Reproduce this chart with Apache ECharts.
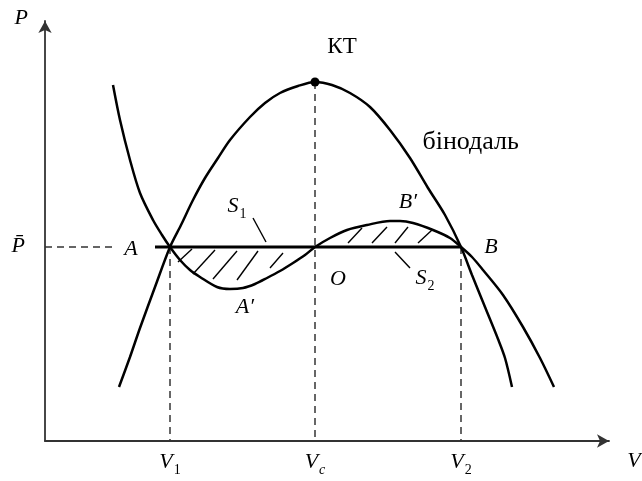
<!DOCTYPE html>
<html>
<head>
<meta charset="utf-8">
<script src="https://cdn.jsdelivr.net/npm/echarts@6/dist/echarts.min.js"></script>
<style>
  html, body { margin: 0; padding: 0; background: #fff; }
  #chart { width: 642px; height: 481px; }
</style>
</head>
<body>
<div id="chart"></div>
<script>
// P–V diagram: subcritical van der Waals isotherm, binodal and Maxwell equal-area line.

// Binodal (coexistence curve), [V, P]
const binodal = [
  [7.4, 5.4], [8.5, 8.4], [9.5, 11.3], [11.0, 15.4], [12.5, 19.4],
  [13.6, 21.6], [14.8, 24.1], [16.0, 26.3], [17.3, 28.3], [18.5, 30.1],
  [20.5, 32.4], [22.0, 33.8], [23.5, 34.8], [25.3, 35.5], [27.0, 35.9],
  [28.7, 35.6], [30.5, 34.8], [32.5, 33.4], [34.5, 31.1], [36.5, 28.3],
  [38.3, 25.3], [40.0, 22.6], [41.6, 19.4], [42.7, 16.6], [44.0, 13.4],
  [45.3, 10.2], [46.0, 8.3], [46.7, 5.4]
];

// Van der Waals isotherm, [V, P]
const isotherm = [
  [6.8, 35.6], [7.5, 32.1], [8.5, 28.1], [9.5, 24.8], [10.8, 22.1],
  [11.7, 20.6], [12.5, 19.4], [13.5, 18.1], [14.5, 17.1], [15.5, 16.4],
  [17.2, 15.4], [18.5, 15.2], [19.8, 15.3], [21.0, 15.7], [22.2, 16.3],
  [23.5, 17.0], [24.8, 17.8], [26.0, 18.6], [27.0, 19.4], [28.5, 20.3],
  [30.2, 21.1], [32.2, 21.6], [34.5, 22.0], [35.5, 22.0], [36.8, 21.8],
  [38.8, 21.1], [40.5, 20.3], [41.6, 19.4], [42.7, 18.4], [43.8, 17.1],
  [45.8, 14.6], [47.8, 11.4], [49.5, 8.3], [50.9, 5.4]
];

// Characteristic values
const pBar = 19.4;   // saturated vapour pressure
const V1 = 12.5;
const Vc = 27.0;
const V2 = 41.6;
const Pc = 35.9;     // critical point pressure

// Horizontal tie line A–B and its dashed extension to the P axis
const tieLine = [[11.0, pBar], [V2, pBar]];
const pBarGuide = [[0, pBar], [7.0, pBar]];

// Hatch strokes inside the areas S1 (below the tie line) and S2 (above it)
const hatchS1 = [
  [[13.3, 17.9], [14.7, 19.2]],
  [[14.8, 16.7], [17.0, 19.1]],
  [[16.8, 16.2], [19.2, 19.0]],
  [[19.2, 16.1], [21.3, 19.0]],
  [[22.5, 17.3], [23.8, 18.8]]
];
const hatchS2 = [
  [[30.3, 19.8], [31.7, 21.3]],
  [[32.7, 19.8], [34.2, 21.4]],
  [[35.0, 19.8], [36.3, 21.4]],
  [[37.3, 19.8], [38.7, 21.1]]
];

// Leader lines from the S1 / S2 captions
const leaders = [
  [[20.8, 22.3], [22.1, 19.9]],
  [[35.0, 18.9], [36.5, 17.3]]
];

// Captions: [V, P, rich text, anchor]
const captions = [
  [29.7, 39.4, '{up|КТ}', 'inside'],
  [37.7, 29.9, '{upL|бінодаль}', 'right'],
  [8.6, 19.1, '{it|A}', 'inside'],
  [20.0, 13.3, '{it|A′}', 'inside'],
  [29.3, 16.1, '{it|O}', 'inside'],
  [44.6, 19.3, '{it|B}', 'inside'],
  [36.3, 23.8, '{it|B′}', 'inside'],
  [19.2, 23.4, '{it|S}{sub|1}', 'inside'],
  [38.0, 16.2, '{it|S}{sub|2}', 'inside'],
  [58.9, -2.1, '{it|V}', 'inside']
];

// Volume tick labels
const xTickValues = [V1, Vc, V2];
const xTickText = ['{it|V}{sub|1}', '{it|V}{subi|c}', '{it|V}{sub|2}'];
const yTickValues = [pBar];
const yTickText = ['{it|P̄}'];

const FONT = 'Liberation Serif';
const rich = {
  up:   { fontFamily: FONT, fontSize: 23, color: '#000', lineHeight: 24, verticalAlign: 'top' },
  upL:  { fontFamily: FONT, fontSize: 26, color: '#000', lineHeight: 26, verticalAlign: 'top' },
  it:   { fontFamily: FONT, fontSize: 22, fontStyle: 'italic', color: '#000', lineHeight: 24, verticalAlign: 'top' },
  sub:  { fontFamily: FONT, fontSize: 14, color: '#000', lineHeight: 14, padding: [12, 0, 0, 1], verticalAlign: 'top' },
  subi: { fontFamily: FONT, fontSize: 14, fontStyle: 'italic', color: '#000', lineHeight: 14, padding: [12, 0, 0, 1], verticalAlign: 'top' }
};

const segs = arr => arr.map(c => ({ coords: c }));

const chart = echarts.init(document.getElementById('chart'), null, { renderer: 'canvas' });

chart.setOption({
  animation: false,
  backgroundColor: '#fff',
  grid: { left: 45, right: 33, top: 21, bottom: 40, containLabel: false },
  xAxis: {
    type: 'value', min: 0, max: 56.4,
    axisLine: { show: true, onZero: false, symbol: ['none', 'arrow'], symbolSize: [10, 12],
      lineStyle: { color: '#333', width: 1.8 } },
    axisTick: { show: false },
    splitLine: { show: false },
    axisLabel: {
      customValues: xTickValues, margin: 10, rich: rich,
      formatter: v => xTickText[xTickValues.indexOf(v)] || ''
    }
  },
  yAxis: {
    type: 'value', min: 0, max: 42,
    axisLine: { show: true, onZero: false, symbol: ['none', 'arrow'], symbolSize: [10, 12],
      lineStyle: { color: '#333', width: 1.8 } },
    axisTick: { show: false },
    splitLine: { show: false },
    axisLabel: {
      customValues: yTickValues, margin: 20, rich: rich,
      formatter: v => yTickText[yTickValues.indexOf(v)] || ''
    },
    name: 'P', nameLocation: 'end', nameGap: 3,
    nameTextStyle: { fontFamily: FONT, fontSize: 22, fontStyle: 'italic', color: '#000',
      align: 'right', verticalAlign: 'middle', padding: [0, 17, 0, 0] }
  },
  series: [
    {
      name: 'guides', type: 'lines', coordinateSystem: 'cartesian2d', z: 1,
      lineStyle: { color: '#333', width: 1.5, type: [7, 5], opacity: 1 },
      data: segs([
        [[V1, pBar], [V1, 0]],
        [[Vc, Pc], [Vc, 0]],
        [[V2, pBar], [V2, 0]],
        pBarGuide
      ])
    },
    {
      name: 'binodal', type: 'line', data: binodal, smooth: 0.3, symbol: 'none', z: 3,
      lineStyle: { color: '#000', width: 2.5 }
    },
    {
      name: 'isotherm', type: 'line', data: isotherm, smooth: 0.3, symbol: 'none', z: 3,
      lineStyle: { color: '#000', width: 2.5 }
    },
    {
      name: 'tie line', type: 'line', data: tieLine, symbol: 'none', z: 3,
      lineStyle: { color: '#000', width: 3.2 }
    },
    {
      name: 'hatch', type: 'lines', coordinateSystem: 'cartesian2d', z: 2,
      lineStyle: { color: '#000', width: 1.4, opacity: 1 },
      data: segs(hatchS1.concat(hatchS2, leaders))
    },
    {
      name: 'critical point', type: 'scatter', data: [[Vc, Pc]], symbolSize: 9, z: 4,
      itemStyle: { color: '#000', opacity: 1 }
    },
    {
      name: 'captions', type: 'scatter', clip: false, z: 5, symbolSize: 1,
      itemStyle: { color: 'rgba(0,0,0,0)', opacity: 1 },
      data: captions.map(c => ({
        value: [c[0], c[1]],
        label: { show: true, position: c[3], distance: 0, formatter: c[2], rich: rich,
          color: '#000', opacity: 1 }
      }))
    }
  ]
});
</script>
</body>
</html>
